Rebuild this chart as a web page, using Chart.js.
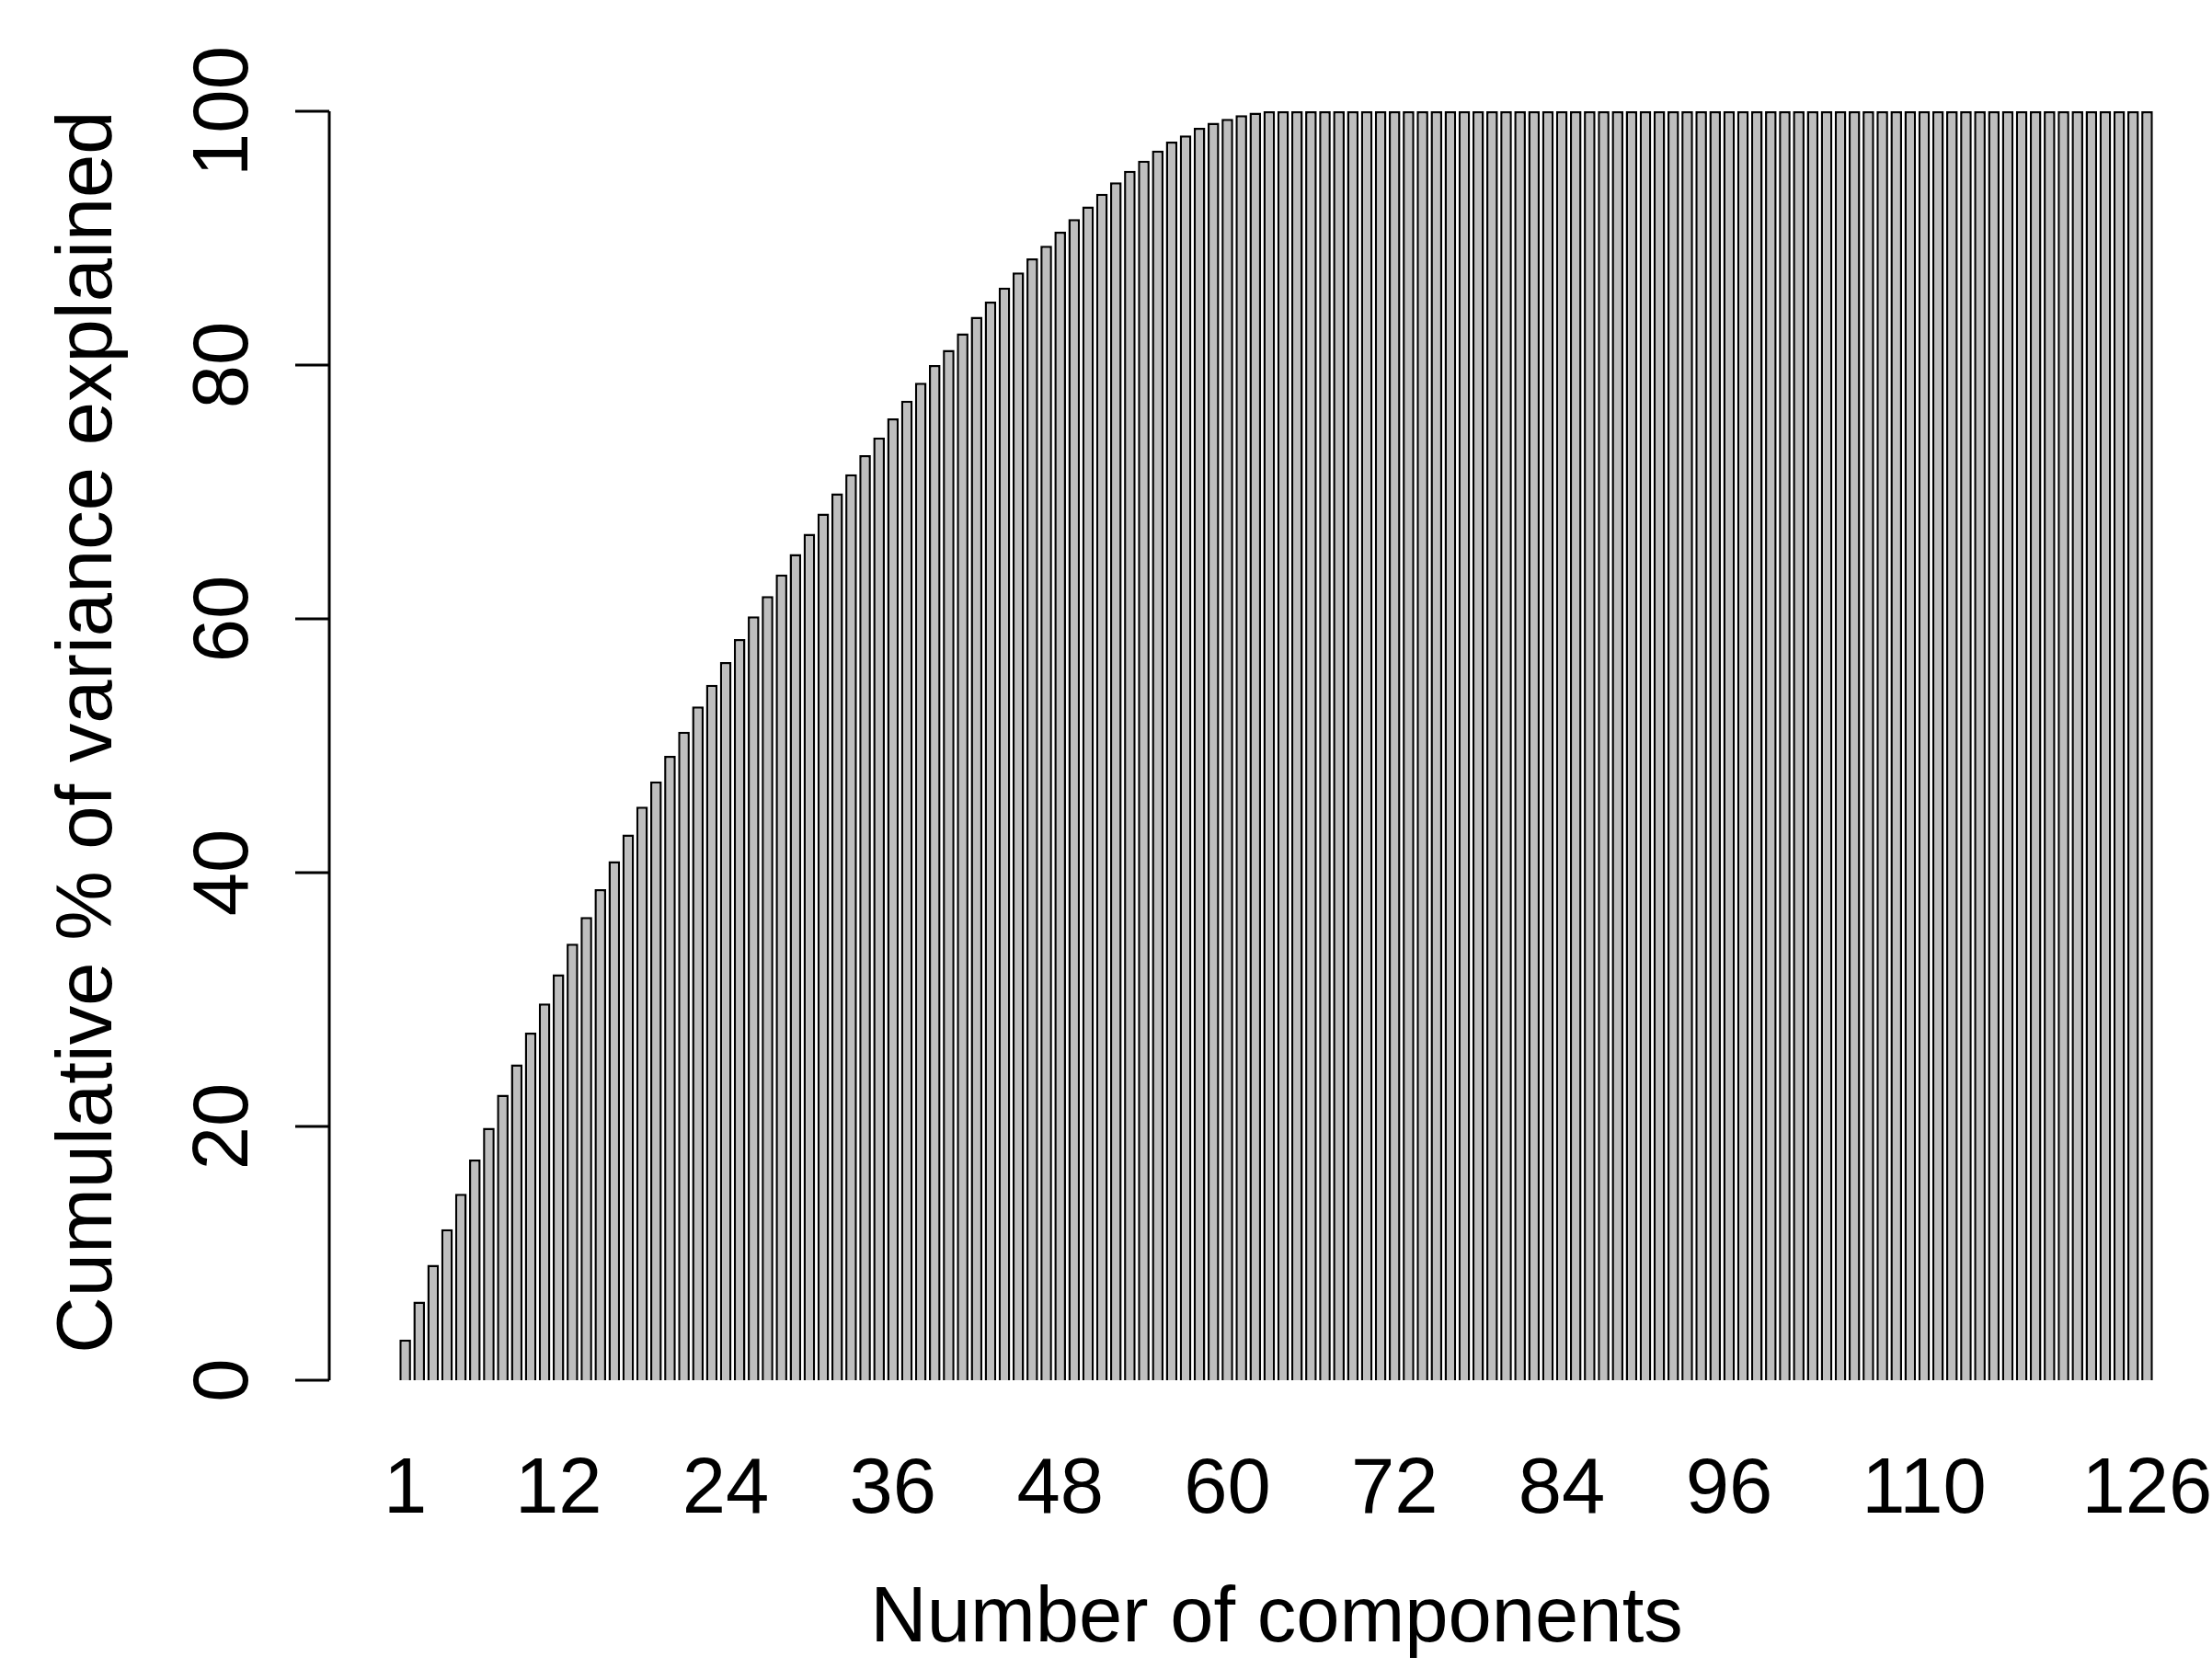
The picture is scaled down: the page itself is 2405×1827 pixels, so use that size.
<!DOCTYPE html>
<html><head><meta charset="utf-8">
<script src="https://cdn.jsdelivr.net/npm/chart.js@4"></script>
<style>html,body{margin:0;padding:0;background:#fff}</style>
</head><body>
<canvas id="c" width="2405" height="1827"></canvas>
<script>
const categories = Array.from({length:126},(_,i)=>String(i+1));
const values = [3.2,6.2,9.1,11.9,14.7,17.4,19.9,22.5,24.9,27.4,29.7,32.0,34.4,36.5,38.7,40.9,43.0,45.2,47.2,49.2,51.1,53.1,54.8,56.6,58.4,60.2,61.8,63.5,65.1,66.7,68.3,69.9,71.4,72.9,74.3,75.8,77.2,78.6,80.0,81.2,82.5,83.8,85.0,86.1,87.3,88.4,89.4,90.5,91.5,92.5,93.5,94.4,95.3,96.1,96.9,97.6,98.1,98.7,99.1,99.4,99.7,99.9,
100,100,100,100,100,100,100,100,100,100,100,100,100,100,100,100,100,100,100,100,100,100,100,100,100,100,100,100,100,100,100,100,100,100,100,100,100,100,100,100,100,100,100,100,100,100,100,100,100,100,100,100,100,100,100,100,100,100,100,100,100,100,100,100];
const xTickLabels = ['1','12','24','36','48','60','72','84','96','110','126'];
const yTicks = [0,20,40,60,80,100];
const FONT = '85px "Liberation Sans", Arial, sans-serif';

const axesPlugin = {
  id:'axesPlugin',
  afterDraw(chart){
    const ctx = chart.ctx, xs = chart.scales.x, ys = chart.scales.y;
    ctx.save();
    ctx.strokeStyle='#000'; ctx.fillStyle='#000'; ctx.lineWidth=3;
    const ax = 358;
    ctx.beginPath();
    ctx.moveTo(ax, ys.getPixelForValue(0)); ctx.lineTo(ax, ys.getPixelForValue(100));
    yTicks.forEach(v=>{const y=ys.getPixelForValue(v); ctx.moveTo(ax,y); ctx.lineTo(ax-37,y);});
    ctx.stroke();
    ctx.font = FONT; ctx.textAlign='center'; ctx.textBaseline='middle';
    yTicks.forEach(v=>{
      const y=ys.getPixelForValue(v);
      ctx.save(); ctx.translate(246,y); ctx.rotate(-Math.PI/2); ctx.fillText(String(v),0,0); ctx.restore();
    });
    xTickLabels.forEach(l=>{
      const x = xs.getPixelForValue(categories.indexOf(l));
      ctx.fillText(l, x, 1622);
    });
    ctx.fillText('Number of components', 1388, 1762);
    ctx.save(); ctx.translate(98, 796); ctx.rotate(-Math.PI/2);
    ctx.fillText('Cumulative % of variance explained',0,0); ctx.restore();
    ctx.restore();
  }
};

new Chart(document.getElementById('c'), {
  type:'bar',
  data:{labels:categories, datasets:[{data:values, backgroundColor:'#bebebe', borderColor:'#000', borderWidth:2.5, barPercentage:1/1.2, categoryPercentage:1}]},
  options:{
    responsive:false, devicePixelRatio:1, animation:false,
    layout:{padding:{left:433, right:63, top:121, bottom:326}},
    plugins:{legend:{display:false}, tooltip:{enabled:false}},
    scales:{
      x:{display:false, offset:true},
      y:{display:false, min:0, max:100}
    }
  },
  plugins:[axesPlugin]
});
</script>
</body></html>
